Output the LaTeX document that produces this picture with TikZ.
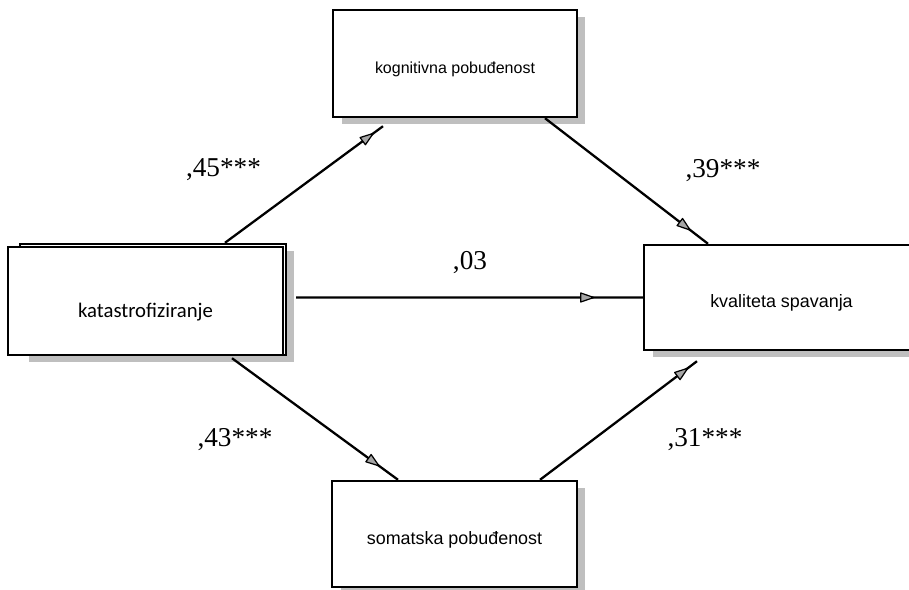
\documentclass[tikz,border=0pt]{standalone}
\usepackage{fontspec}
\setmainfont{Liberation Serif}
\newfontfamily\arialfont{Liberation Sans}
\newfontfamily\calibrifont{Carlito}
\usetikzlibrary{arrows.meta,calc,shadows,decorations.markings}

\begin{document}
\begin{tikzpicture}[x=0.02cm, y=-0.02cm,
  var/.style={rectangle, draw, line width=1.4pt, fill=white, inner sep=0pt,
    text height=0.41cm, text depth=0pt, font=\arialfont\fontsize{10.2}{12}\selectfont},
  shd/.style={drop shadow={shadow xshift=0.17cm, shadow yshift=-0.14cm, fill=black!25, opacity=1}},
  eff/.style={line width=1.3pt, postaction={decorate}, decoration={markings,
    mark=at position #1 with {\filldraw[fill=black!35, line width=0.7pt, line join=round]
      (0cm,0cm) -- (-0.26cm,0.09cm) -- (-0.26cm,-0.09cm) -- cycle;}}},
  coef/.style={anchor=base, font=\fontsize{15.5}{18}\selectfont}]
  \clip (0,0) rectangle (909,590);
  \node[var, shd, minimum width=5.32cm, minimum height=2.22cm] (katback) at (153,299.5) {};
  \node[var, minimum width=5.5cm, minimum height=2.16cm, text height=0.66cm,
    font=\calibrifont\fontsize{11.8}{14}\selectfont] (kat) at (145.5,301) {katastrofiziranje};
  \node[var, shd, minimum width=4.88cm, minimum height=2.14cm, text height=0.40cm,
    font=\arialfont\fontsize{9.1}{11}\selectfont] (kog) at (455,63.5) {kognitivna pobuđenost};
  \node[var, shd, minimum width=4.9cm, minimum height=2.12cm] (som) at (454.5,534) {somatska pobuđenost};
  \node[var, shd, minimum width=5.5cm, minimum height=2.1cm] (kval) at (781.5,297.5) {kvaliteta spavanja};
  \draw[eff=-0.24cm] ($(katback.north)+(72,0)$) -- ($(kog.south)+(-72,8)$);
  \draw[eff=-0.44cm] ($(kog.south)+(90,0)$) -- ($(kval.north)+(-73.5,0)$);
  \draw[eff=-0.98cm] ($(kat.east)+(12,-3.5)$) -- (kval.west);
  \draw[eff=-0.46cm] ($(kat.south)+(86.5,2)$) -- ($(som.north)+(-56.5,0)$);
  \draw[eff=-0.22cm] ($(som.north)+(85.5,0)$) -- ($(kval.south)+(-84.5,10)$);
  \node[coef] (c1) at (223.5,177) {,45***};
  \node[coef] (c2) at (723,178) {,39***};
  \node[coef] (c3) at (470,270) {,03};
  \node[coef] (c4) at (235,447) {,43***};
  \node[coef] (c5) at (705,447) {,31***};
\end{tikzpicture}
\end{document}
